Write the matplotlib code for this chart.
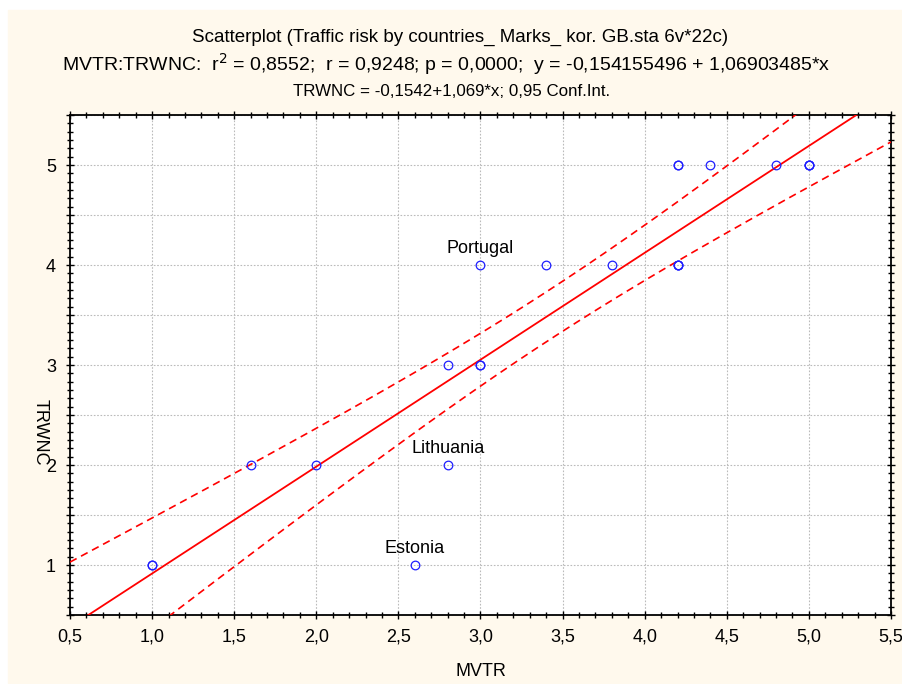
import numpy as np
import matplotlib
matplotlib.use("Agg")
import matplotlib.pyplot as plt
from matplotlib.patches import Rectangle
from matplotlib.ticker import MultipleLocator, AutoMinorLocator, FuncFormatter

plt.rcParams['font.family'] = ['Liberation Sans', 'DejaVu Sans']

# 22 cases (several countries share the same marks)
mvtr = [1.0, 1.0, 1.6, 2.0, 2.6, 2.8, 2.8, 3.0, 3.0, 3.0, 3.4,
        3.8, 4.2, 4.2, 4.2, 4.2, 4.2, 4.4, 4.8, 5.0, 5.0, 5.0]
trwnc = [1, 1, 2, 2, 1, 2, 3, 3, 3, 4, 4,
         4, 4, 4, 4, 5, 5, 5, 5, 5, 5, 5]

# labelled countries
countries = ["Portugal", "Lithuania", "Estonia"]
country_x = [3.0, 2.8, 2.6]
country_y = [4, 2, 1]

# Student t, 0.975 quantile, 20 degrees of freedom
t_crit = 2.086

x = np.array(mvtr)
y = np.array(trwnc, dtype=float)
n = len(x)
xm, ym = x.mean(), y.mean()
sxx = ((x - xm) ** 2).sum()
slope = ((x - xm) * (y - ym)).sum() / sxx
intercept = ym - slope * xm
resid = y - (intercept + slope * x)
s = np.sqrt((resid ** 2).sum() / (n - 2))

fig = plt.figure(figsize=(9.03, 6.84), dpi=100)
fig.patches.append(Rectangle((8 / 903, 1 / 684), 895 / 903, 673 / 684,
                             transform=fig.transFigure, color='#FFF9ED', zorder=-10))

ax = fig.add_axes([70 / 903, 69 / 684, 821 / 903, 500 / 684])
ax.set_facecolor('white')

# regression line with 0.95 confidence band for the mean
xx = np.linspace(0.5, 5.5, 200)
fit = intercept + slope * xx
half = t_crit * s * np.sqrt(1 / n + (xx - xm) ** 2 / sxx)
ax.plot(xx, fit, color='red', lw=1.3, zorder=3)
ax.plot(xx, fit + half, color='red', lw=1.2, dashes=(4.5, 3), zorder=3)
ax.plot(xx, fit - half, color='red', lw=1.2, dashes=(4.5, 3), zorder=3)

ax.plot(mvtr, trwnc, 'o', ms=6.2, mfc='none', mec='#1E1EFF', mew=0.9, zorder=4)

for name, cx, cy in zip(countries, country_x, country_y):
    ax.annotate(name, (cx, cy), xytext=(0, 5.5), textcoords='offset points',
                ha='center', va='bottom', fontsize=13)

ax.set_xlim(0.5, 5.5)
ax.set_ylim(0.5, 5.5)
ax.xaxis.set_major_locator(MultipleLocator(0.5))
ax.yaxis.set_major_locator(MultipleLocator(0.5))
ax.xaxis.set_minor_locator(AutoMinorLocator(5))
ax.yaxis.set_minor_locator(AutoMinorLocator(6))
ax.xaxis.set_major_formatter(FuncFormatter(lambda v, p: ("%.1f" % v).replace('.', ',')))
ax.yaxis.set_major_formatter(FuncFormatter(lambda v, p: "%d" % round(v) if abs(v - round(v)) < 1e-6 else ""))
ax.tick_params(which='both', top=True, right=True, direction='inout', labelsize=13, width=1)
ax.tick_params(which='major', length=6)
ax.tick_params(which='minor', length=4)
ax.tick_params(axis='x', pad=7)
ax.tick_params(axis='y', pad=7)
ax.grid(True, which='major', color='#BBBBBB', linestyle=(0, (1.5, 1.5)), lw=0.8)
for sp in ax.spines.values():
    sp.set_linewidth(1.3)

fig.text(0.51, 1 - 37 / 684, "Scatterplot (Traffic risk by countries_ Marks_ kor. GB.sta 6v*22c)",
         ha='center', va='center', fontsize=13.5)
fig.text(0.494, 1 - 64 / 684,
         r"MVTR:TRWNC:  r$^2$ = 0,8552;  r = 0,9248; p = 0,0000;  y = -0,154155496 + 1,06903485*x",
         ha='center', va='center', fontsize=14)
fig.text(0.5, 1 - 92 / 684, "TRWNC = -0,1542+1,069*x; 0,95 Conf.Int.",
         ha='center', va='center', fontsize=12.2)
fig.text(481 / 903, 1 - 671 / 684, "MVTR", ha='center', va='center', fontsize=13)
fig.text(40 / 903, 1 - 432 / 684, "TRWNC", ha='center', va='center', fontsize=13, rotation=270)

fig.savefig('out.png', dpi=100)
